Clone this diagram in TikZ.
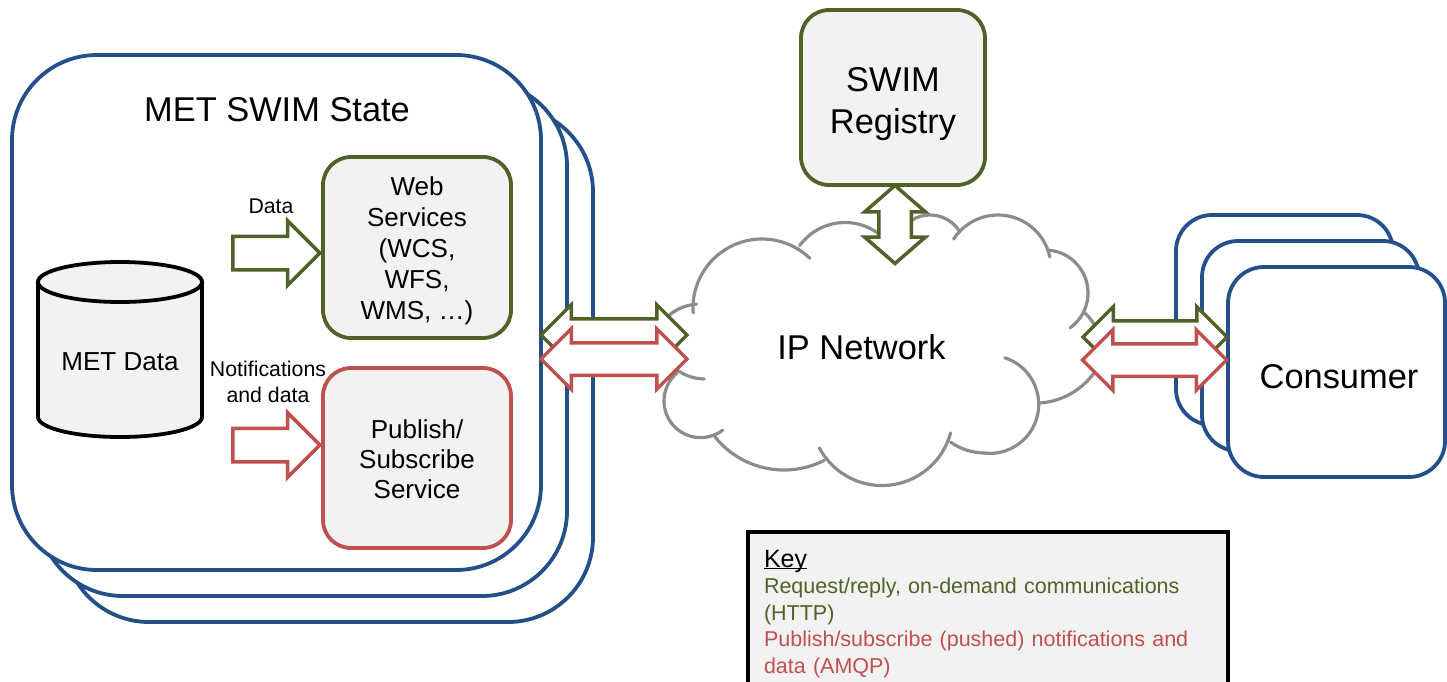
\documentclass[tikz,border=0pt]{standalone}
\usepackage{fontspec}
\setmainfont{Liberation Sans}
\usetikzlibrary{shapes.geometric,shapes.arrows}
\definecolor{swimblue}{HTML}{24508A}
\definecolor{swimgreen}{HTML}{4F6228}
\definecolor{swimred}{HTML}{C0504D}
\definecolor{swimgray}{HTML}{8C8C8C}
\definecolor{swimfill}{HTML}{F2F2F2}
\newcommand{\cloudarc}[4]{\draw[cloudline] (#1) ++(#3:#2pt) arc[start angle=#3,end angle=#4,radius=#2pt];}
\tikzset{
  bigtext/.style={font=\fontsize{34.4}{42}\selectfont},
  midtext/.style={font=\fontsize{26}{31}\selectfont},
  smalltext/.style={font=\fontsize{21.3}{26}\selectfont},
  stack/.style={draw=swimblue,fill=white,line width=3.8pt,rounded corners=85pt,minimum width=529pt,minimum height=515pt},
  consumer/.style={draw=swimblue,fill=white,line width=3.8pt,rounded corners=36pt,minimum width=217pt,minimum height=210pt},
  service/.style={fill=swimfill,line width=3.8pt,rounded corners=28pt,align=center,midtext},
  arrowr/.style={single arrow,fill=white,line width=3.5pt,inner sep=15pt,outer sep=0pt,minimum height=87pt,single arrow head extend=15.5pt},
  arrowd/.style={double arrow,fill=white,line width=3.5pt,inner sep=14.5pt,outer sep=0pt,double arrow head extend=14pt},
  cloudline/.style={draw=swimgray,line width=3.2pt,line cap=round}
}
\begin{document}
\begin{tikzpicture}[x=1pt,y=-1pt]
  \useasboundingbox (0,0) rectangle (1447,682);
  % state boxes
  \node[stack] (stateC) at (328.5,364.5) {};
  \node[stack] (stateB) at (302.5,338.5) {};
  \node[stack] (stateA) at (276.5,312.5) {};
  \node[bigtext] (statetitle) at (277,110) {MET SWIM State};
  \node[cylinder,shape border rotate=90,aspect=6,draw=black,fill=swimfill,line width=3.8pt,outer sep=0pt,minimum width=164pt,minimum height=175pt,anchor=south] (metdata) at (120,437) {};
  \node[midtext] (metlabel) at (120,362) {MET Data};
  \node[service,draw=swimgreen,minimum width=188pt,minimum height=181pt] (web) at (417,247.5) {\rule{0pt}{25pt}Web\\Services\\(WCS,\\WFS,\\WMS, \ldots)};
  \node[service,draw=swimred,minimum width=188pt,minimum height=180pt] (pubsub) at (417,458) {\rule{0pt}{22pt}Publish/\\[-1pt]Subscribe\\[-1pt]Service};
  \node[smalltext] (datalabel) at (271,206) {Data};
  \node[smalltext,align=center] (notelabel) at (268,382) {Notifications\\and data};
  \node[arrowr,draw=swimgreen] (dataarrow) at (268,253) {};
  \node[arrowr,draw=swimred] (notearrow) at (268,445) {};
  % cloud
  \cloudarc{762,308}{69}{184}{46}
  \cloudarc{845,278.5}{56}{144}{52}
  \cloudarc{930,250}{35}{128}{31}
  \cloudarc{998,268}{53}{147}{12}
  \cloudarc{1045,293}{43}{86}{-54}
  \cloudarc{1045,355}{58}{48}{25}
  \cloudarc{1034.6,329.6}{73.6}{-86}{-36}
  \cloudarc{989.7,404.4}{49}{72}{-95}
  \cloudarc{985,393}{60}{-90}{-125}
  \cloudarc{882,414.5}{71}{-15}{-152}
  \cloudarc{784,381.4}{88.6}{-63}{-141}
  \cloudarc{700.6,401}{36.6}{-53}{-230}
  \cloudarc{705,331}{48}{236}{269}
  \cloudarc{700,352}{48}{132}{94}
  \node[bigtext] (iplabel) at (861.5,347) {IP Network};
  % registry
  \node[service,bigtext,draw=swimgreen,minimum width=184pt,minimum height=175pt] (registry) at (893,97.5) {\rule{0pt}{37pt}SWIM\\Registry};
  \node[arrowd,draw=swimgreen,minimum height=78pt,rotate=90,double arrow tip angle=98] (regarrow) at (895,224.5) {};
  % consumers
  \node[consumer] (consC) at (1284.5,320) {};
  \node[consumer] (consB) at (1310.5,346) {};
  \node[consumer,bigtext] (consA) at (1336.5,372) {\rule{0pt}{33pt}\hspace*{5pt}Consumer};
  % links
  \node[arrowd,draw=swimgreen,minimum height=146pt] (stategreen) at (614,335) {};
  \node[arrowd,draw=swimred,minimum height=146pt] (statered) at (614,359) {};
  \node[arrowd,draw=swimgreen,minimum height=144pt] (consgreen) at (1155,337) {};
  \node[arrowd,draw=swimred,minimum height=144pt] (consred) at (1154.5,360) {};
  % key
  \node[draw=black,fill=swimfill,line width=4pt,outer sep=0pt,anchor=north west,text width=448pt,align=left,inner xsep=16pt,inner ysep=17pt,font=\fontsize{21.5}{26.5}\selectfont] (key) at (748,532) {\rule{0pt}{18pt}\fontsize{25}{26.5}\selectfont\underline{\smash{Key}}\\\fontsize{21.5}{26.5}\selectfont\textcolor{swimgreen}{Request/reply, on-demand communications}\\\textcolor{swimgreen}{(HTTP)}\\\textcolor{swimred}{Publish/subscribe (pushed) notifications and}\\\textcolor{swimred}{data (AMQP)}};
\end{tikzpicture}
\end{document}
